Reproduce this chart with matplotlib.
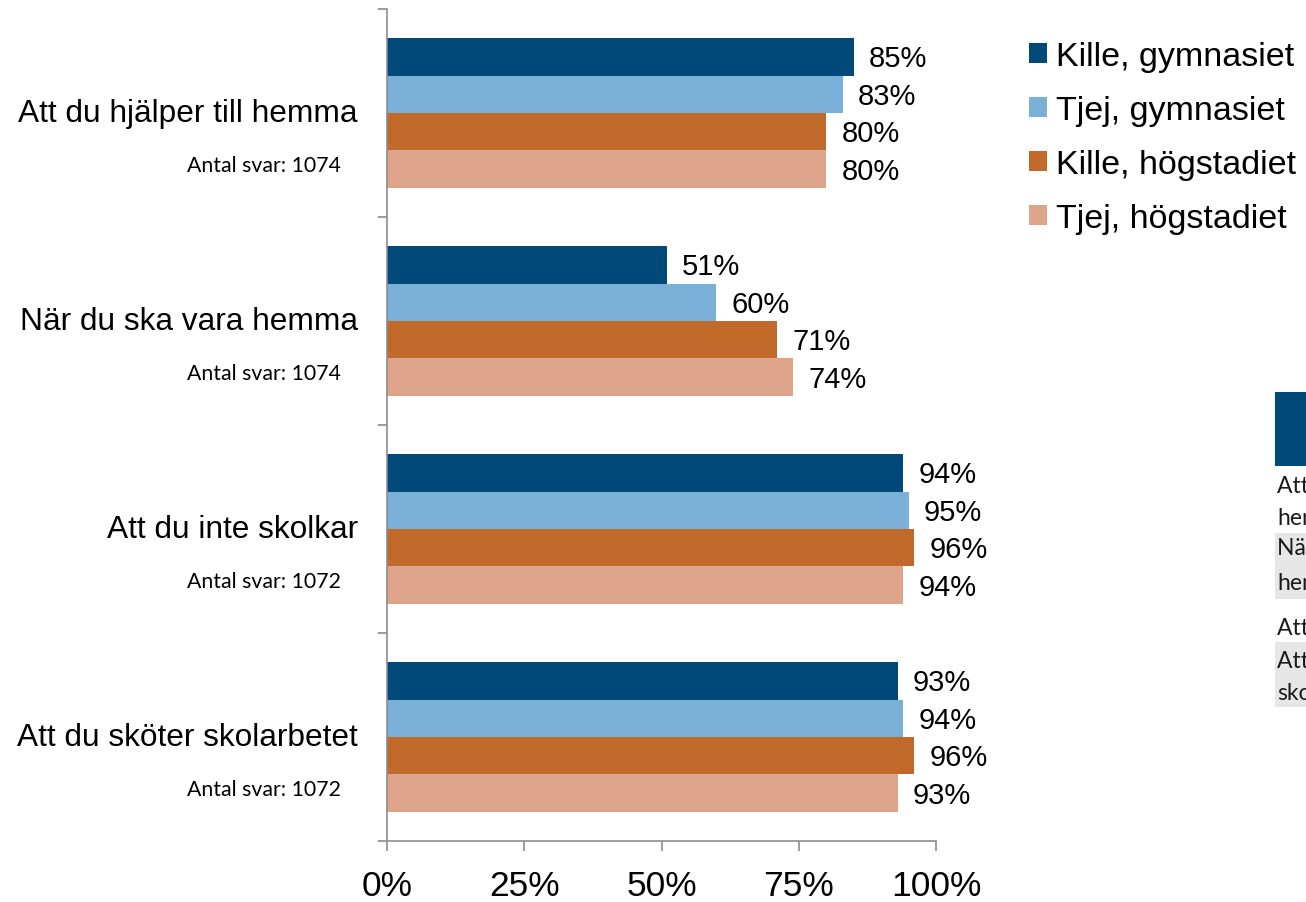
import matplotlib
matplotlib.use("Agg")
import matplotlib.pyplot as plt
from matplotlib.patches import Patch, Rectangle
import numpy as np

# Survey data: share (%) answering per question and group
categories = [
    "Att du hjälper till hemma",
    "När du ska vara hemma",
    "Att du inte skolkar",
    "Att du sköter skolarbetet",
]
antal_svar = [1074, 1074, 1072, 1072]

series_names = ["Kille, gymnasiet", "Tjej, gymnasiet", "Kille, högstadiet", "Tjej, högstadiet"]
kille_gymnasiet = [85, 51, 94, 93]
tjej_gymnasiet = [83, 60, 95, 94]
kille_hogstadiet = [80, 71, 96, 96]
tjej_hogstadiet = [80, 74, 94, 93]
series_values = [kille_gymnasiet, tjej_gymnasiet, kille_hogstadiet, tjej_hogstadiet]

colors = ["#004A7A", "#7AAFD7", "#C0692A", "#DDA48A"]
xticks = [0, 25, 50, 75, 100]

MAIN = ["Liberation Sans", "DejaVu Sans"]
SMALL = ["Lato", "DejaVu Sans"]
plt.rcParams["font.family"] = MAIN

W, H = 1306, 903
fig = plt.figure(figsize=(W / 100, H / 100), dpi=100)
ax = fig.add_axes([387 / W, (H - 842) / H, 549 / W, 832 / H])

bar_h = 0.18
offsets = np.array([-1.5, -0.5, 0.5, 1.5]) * bar_h
y = np.arange(len(categories))

for vals, name, col, off in zip(series_values, series_names, colors, offsets):
    bars = ax.barh(y + off, vals, height=bar_h, color=col, label=name, edgecolor="none")
    for b, v in zip(bars, vals):
        ax.annotate(f"{v}%", xy=(b.get_width(), b.get_y() + b.get_height() / 2),
                    xytext=(11, -1), textcoords="offset points",
                    ha="left", va="center", fontsize=21, color="#000000")

ax.set_xlim(0, 100)
ax.set_ylim(len(categories) - 0.5, -0.5)

# Axis styling
spine_col = "#8C8C8C"
for s in ["top", "right"]:
    ax.spines[s].set_visible(False)
for s in ["left", "bottom"]:
    ax.spines[s].set_color(spine_col)
    ax.spines[s].set_linewidth(1.2)

ax.set_xticks(xticks)
ax.set_xticklabels([f"{t}%" for t in xticks], fontsize=25.5)
ax.tick_params(axis="x", length=7.5, width=1.2, color=spine_col, pad=13, direction="out")

ax.set_yticks(np.arange(-0.5, len(categories), 1.0))
ax.set_yticklabels([])
ax.tick_params(axis="y", length=6.5, width=1.2, color=spine_col, direction="out")

# Category labels with number of answers
for yi, cat, n in zip(y, categories, antal_svar):
    ax.annotate(cat, xy=(0, yi), xycoords=("axes fraction", "data"),
                xytext=(-21, 0), textcoords="offset points",
                ha="right", va="center", fontsize=22.8, color="#000000")
    ax.annotate(f"Antal svar: {n}", xy=(0, yi + 0.25), xycoords=("axes fraction", "data"),
                xytext=(-33, 0), textcoords="offset points",
                ha="right", va="center", fontsize=15.3, color="#000000", family=SMALL)

# Legend
handles = [Patch(facecolor=c, edgecolor="none", label=n) for c, n in zip(colors, series_names)]
fig.legend(handles=handles, loc="upper left", bbox_to_anchor=(1029 / W, 1 - 42 / H),
           frameon=False, fontsize=24.5, handlelength=0.52, handleheight=0.52,
           handletextpad=0.27, labelspacing=0.68, borderpad=0, borderaxespad=0)

# Summary table at the right edge of the page
fig.patches.append(Rectangle((1275 / W, 1 - 467 / H), 60 / W, 74 / H,
                             transform=fig.transFigure, facecolor="#004A7A",
                             edgecolor="none"))
fig.patches.append(Rectangle((1275 / W, 1 - 600 / H), 60 / W, 66 / H,
                             transform=fig.transFigure, facecolor="#E6E6E6",
                             edgecolor="none"))
fig.patches.append(Rectangle((1275 / W, 1 - 708 / H), 60 / W, 65 / H,
                             transform=fig.transFigure, facecolor="#E6E6E6",
                             edgecolor="none"))
table_lines = [
    ("Att du hjälper till", 493),
    ("hemma", 525),
    ("När du ska vara", 555),
    ("hemma", 590),
    ("Att du inte skolkar", 635),
    ("Att du sköter", 668),
    ("skolarbetet", 700),
]
for txt, base in table_lines:
    fig.text(1277 / W, 1 - base / H, txt, ha="left", va="baseline",
             fontsize=16.5, family=SMALL, color="#1A1A1A")

fig.savefig("out.png", dpi=100)
